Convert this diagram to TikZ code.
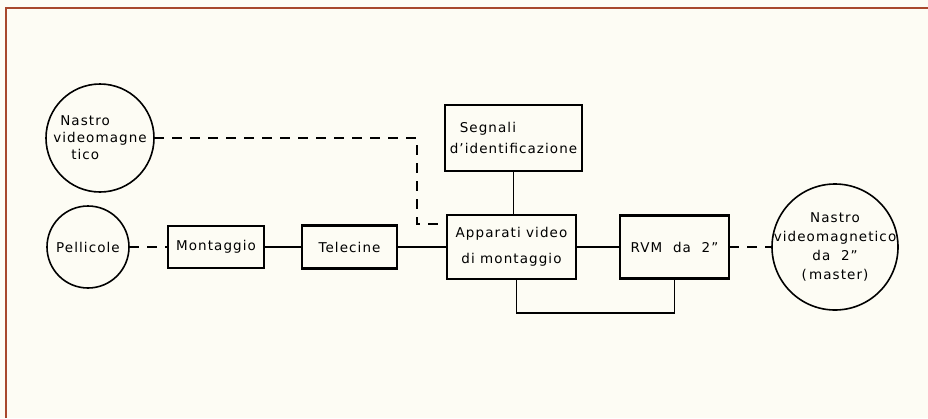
\documentclass[tikz,border=0pt]{standalone}
\usepackage{fontspec}
\setmainfont{DejaVu Sans}[LetterSpace=8]
\usetikzlibrary{positioning}
\definecolor{framecol}{HTML}{A8482C}
\definecolor{paper}{HTML}{FDFCF4}

\begin{document}
\begin{tikzpicture}[
  x=1pt, y=1pt,
  font=\fontsize{13.5}{19}\selectfont,
  node distance=40pt and 40pt,
  box/.style={draw, line width=2.2pt, outer sep=0pt, align=center, inner sep=2pt},
  tape/.style={draw, circle, line width=1.6pt, outer sep=0pt, inner sep=0pt, align=center},
  link/.style={line width=1.3pt},
  dlink/.style={link, dash pattern=on 10pt off 8pt}
]
\fill[paper] (0,0) rectangle (928,-418);
\useasboundingbox (0,0) rectangle (928,-418);
\draw[framecol, line width=2.4pt] (6,-418) -- (6,-8) -- (928,-8);

% catena principale
\node[tape, minimum size=82pt] (pell) at (88,-247) {Pellicole};
\node[box, minimum width=96pt, minimum height=42pt, right=39pt of pell] (mont) {Montaggio};
\node[box, minimum width=95pt, minimum height=43pt, right=38pt of mont] (tele) {Telecine};
\node[box, minimum width=129pt, minimum height=64pt, right=50pt of tele] (app) {Apparati video\\[7pt]di montaggio};
\node[box, minimum width=109pt, minimum height=63pt, right=44pt of app] (rvm) {RVM\ \ da\ \ 2"};
\node[tape, minimum size=126pt, inner sep=-8pt, right=43pt of rvm] (mast)
  {Nastro\\videomagnetico\\da\ \ 2"\hspace*{20pt}\\(\,master)};

% ingressi
\node[tape, minimum size=108pt, align=left, above=14pt of pell, xshift=12pt] (nastro)
  {\hspace*{7pt}Nastro\\[-2pt]videomagne\\[-2pt]\hspace*{18pt}tico};
\node[box, minimum width=137pt, minimum height=66pt, align=left, above=44pt of app, xshift=2pt] (segn)
  {\hspace*{10pt}Segnali\\[2pt]d'identificazione};

\draw[dlink] (pell) -- (mont);
\draw[link] (mont) -- (tele);
\draw[link] (tele) -- (app);
\draw[link] (app) -- (rvm);
\draw[dlink] (rvm) -- (mast);
\draw[link] (segn.south) -- (segn.south |- app.north);
\draw[link] ([xshift=5pt]app.south) -- ++(0,-34) -| (rvm.south);
\draw[dlink] (nastro.east) -| ([xshift=-30pt,yshift=-9pt]app.north west) -- ([yshift=-9pt]app.north west);
\end{tikzpicture}
\end{document}
